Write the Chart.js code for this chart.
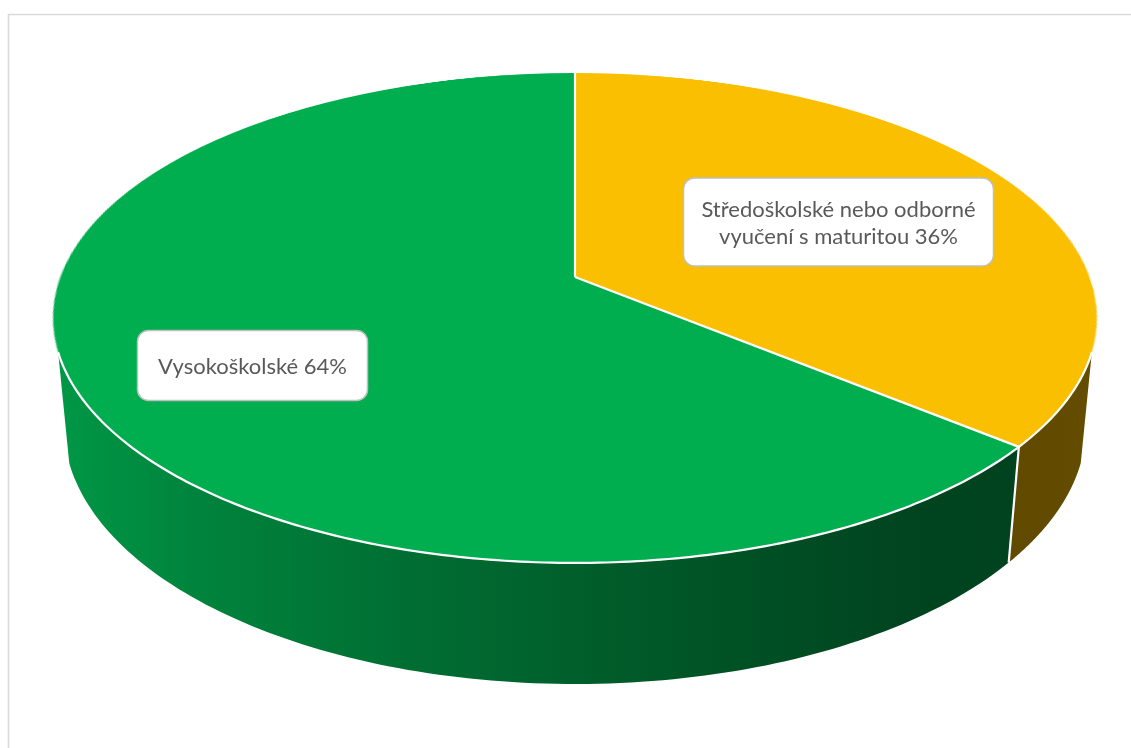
<!DOCTYPE html>
<html>
<head>
<meta charset="utf-8">
<script src="https://cdn.jsdelivr.net/npm/chart.js@4.4.1/dist/chart.umd.min.js"></script>
<style>
  html, body { margin: 0; padding: 0; background: #ffffff; overflow: hidden; }
  canvas { display: block; }
</style>
</head>
<body>
<canvas id="pie" width="1131" height="748"></canvas>
<script>
// ---- data ----
const categories = ['Středoškolské nebo odborné vyučení s maturitou', 'Vysokoškolské'];
const shares = [36, 64];

// ---- styling ----
const topColors = ['#FABF00', '#00AD4F'];
const FONT = '22px Lato, "Open Sans", sans-serif';
const TEXT_COLOR = '#595959';

// Perspective camera for the tilted disc (unit radius disc, x right, y toward viewer, z up)
const CAM = { F: 2727, L: 5.299, sinA: 0.4627, cosA: 0.8865, h: 0.2396, X0: 575, Y0: 277 };
// Side wall is visible where sin(angle) exceeds this
const WALL_MIN_SIN = 0.30;
// Side-wall lighting: brightness factor across the screen (x, factor)
const WALL_LIGHT = [[53, 0.88], [200, 0.76], [400, 0.64], [575, 0.55], [750, 0.46], [900, 0.40], [1000, 0.385], [1097, 0.40]];

// Label boxes (centre x, centre y, width, height)
const LABEL_BOXES = [
  { cx: 838.5, cy: 222, w: 310, h: 88, wrap: 300 },
  { cx: 252.5, cy: 365.5, w: 230, h: 70, wrap: 300 }
];

function project(x, y, z) {
  const depth = CAM.L - y * CAM.cosA - z * CAM.sinA;
  return {
    x: CAM.X0 + CAM.F * x / depth,
    y: CAM.Y0 + CAM.F * (y * CAM.sinA - z * CAM.cosA) / depth
  };
}
// screen row offset -> disc y on the top face
function rowToDiscY(dy) {
  return dy * CAM.L / (CAM.F * CAM.sinA + dy * CAM.cosA);
}

function shade(hex, f) {
  const n = parseInt(hex.slice(1), 16);
  const r = Math.round(((n >> 16) & 255) * f);
  const g = Math.round(((n >> 8) & 255) * f);
  const b = Math.round((n & 255) * f);
  return `rgb(${r},${g},${b})`;
}

function visibleWallRange(start, end) {
  const t0 = Math.asin(WALL_MIN_SIN), t1 = Math.PI - t0;
  for (const off of [-2 * Math.PI, 0, 2 * Math.PI]) {
    const a = Math.max(start + off, t0), b = Math.min(end + off, t1);
    if (b > a) return [a, b];
  }
  return null;
}

function wrapText(ctx, text, maxW) {
  const words = text.split(' ');
  const lines = [];
  let line = '';
  for (const w of words) {
    const test = line ? line + ' ' + w : w;
    if (ctx.measureText(test).width > maxW && line) { lines.push(line); line = w; }
    else line = test;
  }
  if (line) lines.push(line);
  return lines;
}

function roundRect(ctx, x, y, w, h, r) {
  ctx.beginPath();
  ctx.moveTo(x + r, y);
  ctx.lineTo(x + w - r, y);
  ctx.arcTo(x + w, y, x + w, y + r, r);
  ctx.lineTo(x + w, y + h - r);
  ctx.arcTo(x + w, y + h, x + w - r, y + h, r);
  ctx.lineTo(x + r, y + h);
  ctx.arcTo(x, y + h, x, y + h - r, r);
  ctx.lineTo(x, y + r);
  ctx.arcTo(x, y, x + r, y, r);
  ctx.closePath();
}

const tiltPlugin = {
  id: 'tilt3d',
  beforeDraw(chart) {
    const ctx = chart.ctx;
    ctx.save();
    ctx.strokeStyle = '#D9D9D9';
    ctx.lineWidth = 1.6;
    ctx.beginPath();
    ctx.moveTo(8.5, chart.height + 2);
    ctx.lineTo(8.5, 14.5);
    ctx.lineTo(chart.width + 2, 14.5);
    ctx.stroke();
    ctx.restore();
  },
  beforeDatasetsDraw(chart) {
    const ctx = chart.ctx;
    const arcs = chart.getDatasetMeta(0).data;

    // Flat pie drawn by the arc elements
    const off = document.createElement('canvas');
    off.width = chart.width; off.height = chart.height;
    const octx = off.getContext('2d');
    arcs.forEach(a => a.draw(octx));
    const { x: cx, y: cy, outerRadius: R } = arcs[0].getProps(['x', 'y', 'outerRadius'], true);

    ctx.save();

    // Side walls
    arcs.forEach((a, i) => {
      const p = a.getProps(['startAngle', 'endAngle'], true);
      const rng = visibleWallRange(p.startAngle, p.endAngle);
      if (!rng) return;
      const grad = ctx.createLinearGradient(53, 0, 1097, 0);
      WALL_LIGHT.forEach(([x, f]) => grad.addColorStop((x - 53) / (1097 - 53), shade(topColors[i], f)));
      const N = 120;
      ctx.beginPath();
      for (let k = 0; k <= N; k++) {
        const t = rng[0] + (rng[1] - rng[0]) * k / N;
        const q = project(Math.cos(t), Math.sin(t), 0);
        k === 0 ? ctx.moveTo(q.x, q.y) : ctx.lineTo(q.x, q.y);
      }
      for (let k = N; k >= 0; k--) {
        const t = rng[0] + (rng[1] - rng[0]) * k / N;
        const q = project(Math.cos(t), Math.sin(t), -CAM.h);
        ctx.lineTo(q.x, q.y);
      }
      ctx.closePath();
      ctx.fillStyle = grad;
      ctx.fill();
    });

    // Top face: flat pie re-projected row by row
    ctx.imageSmoothingEnabled = true;
    ctx.imageSmoothingQuality = 'high';
    const yTop = Math.floor(project(0, -1, 0).y) - 1;
    const yBot = Math.ceil(project(0, 1, 0).y) + 1;
    for (let Y = yTop; Y <= yBot; Y++) {
      let v0 = rowToDiscY(Y - CAM.Y0), v1 = rowToDiscY(Y + 1 - CAM.Y0);
      if (v1 <= -1 || v0 >= 1) continue;
      v0 = Math.max(v0, -1); v1 = Math.min(v1, 1);
      const vm = (v0 + v1) / 2;
      const s = CAM.F / ((CAM.L - vm * CAM.cosA) * R);
      const sy = cy + R * v0, sh = Math.max(R * (v1 - v0), 0.01);
      ctx.drawImage(off, 0, sy, off.width, sh, CAM.X0 - cx * s, Y, off.width * s, 1);
    }

    // White edges: front rim, slice edges on top and on the wall
    ctx.strokeStyle = '#FFFFFF';
    ctx.lineWidth = 2.2;
    ctx.lineJoin = 'round';
    const t0 = Math.asin(WALL_MIN_SIN), t1 = Math.PI - t0;
    ctx.beginPath();
    for (let k = 0; k <= 200; k++) {
      const t = t0 + (t1 - t0) * k / 200;
      const q = project(Math.cos(t), Math.sin(t), 0);
      k === 0 ? ctx.moveTo(q.x, q.y) : ctx.lineTo(q.x, q.y);
    }
    ctx.stroke();
    const c0 = project(0, 0, 0);
    arcs.forEach(a => {
      const ang = a.getProps(['startAngle'], true).startAngle;
      const q = project(Math.cos(ang), Math.sin(ang), 0);
      ctx.beginPath();
      ctx.moveTo(c0.x, c0.y);
      ctx.lineTo(q.x, q.y);
      if (Math.sin(ang) > WALL_MIN_SIN) {
        const b = project(Math.cos(ang), Math.sin(ang), -CAM.h);
        ctx.lineTo(b.x, b.y);
      }
      ctx.stroke();
    });

    ctx.restore();
    return false;
  },
  afterDraw(chart) {
    const ctx = chart.ctx;
    ctx.save();
    ctx.font = FONT;
    ctx.textAlign = 'center';
    ctx.textBaseline = 'middle';
    categories.forEach((cat, i) => {
      const box = LABEL_BOXES[i];
      const lines = wrapText(ctx, cat + ' ' + shares[i] + '%', box.wrap);
      roundRect(ctx, box.cx - box.w / 2, box.cy - box.h / 2, box.w, box.h, 11);
      ctx.fillStyle = '#FFFFFF';
      ctx.fill();
      ctx.strokeStyle = '#BFBFBF';
      ctx.lineWidth = 1.5;
      ctx.stroke();
      ctx.fillStyle = TEXT_COLOR;
      const lh = 27;
      lines.forEach((ln, j) => {
        ctx.fillText(ln, box.cx, box.cy + (j - (lines.length - 1) / 2) * lh + 1);
      });
    });
    ctx.restore();
  }
};

new Chart(document.getElementById('pie'), {
  type: 'pie',
  data: {
    labels: categories,
    datasets: [{ data: shares, backgroundColor: topColors, borderWidth: 0 }]
  },
  options: {
    responsive: false,
    animation: false,
    layout: { padding: 10 },
    plugins: { legend: { display: false }, tooltip: { enabled: false } }
  },
  plugins: [tiltPlugin]
});
</script>
</body>
</html>
